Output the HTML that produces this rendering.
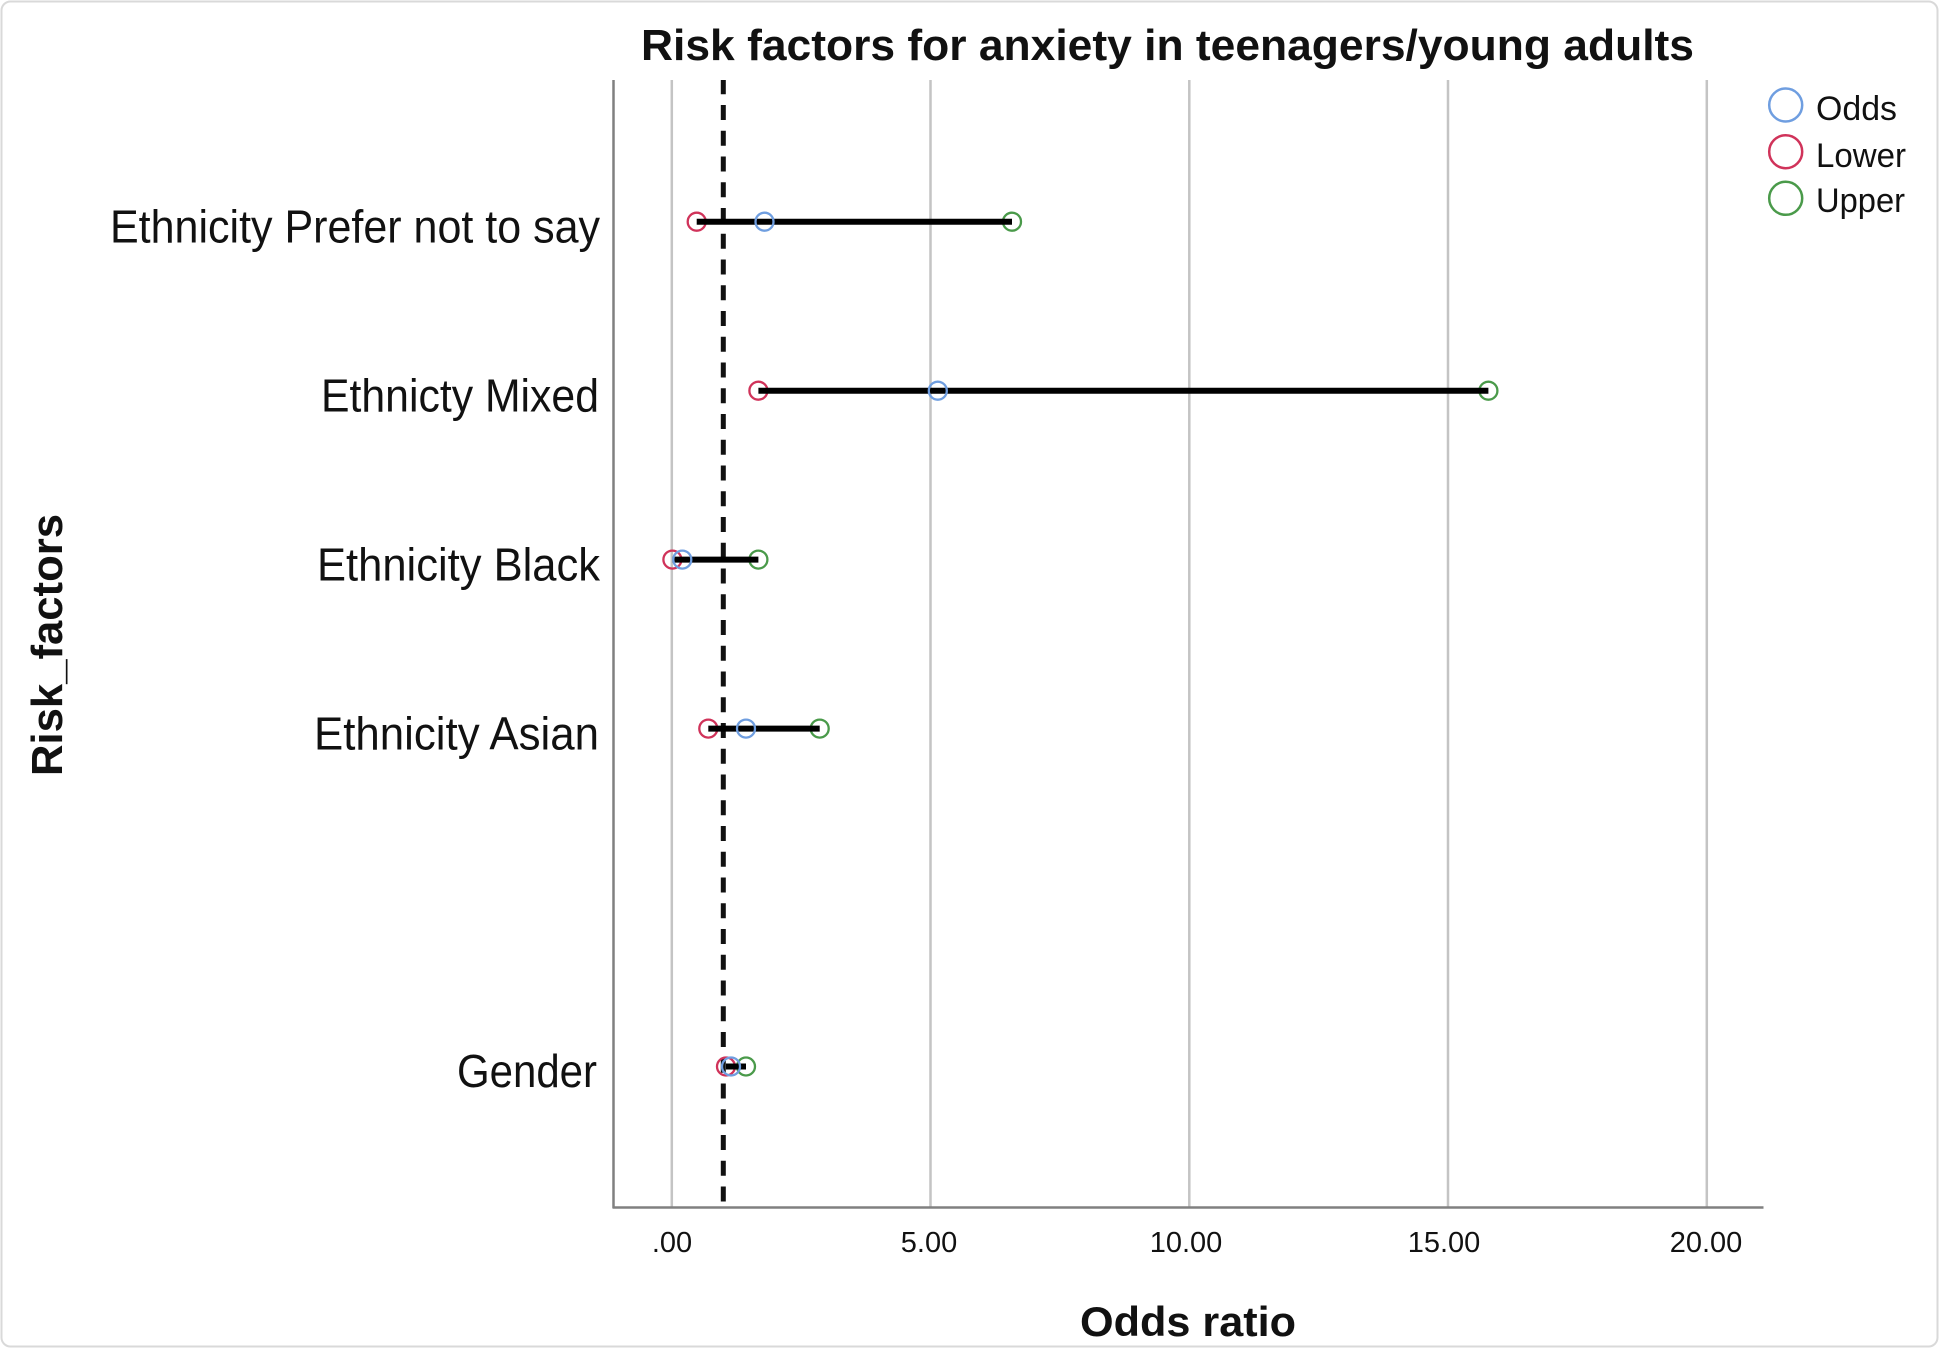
<!DOCTYPE html>
<html>
<head>
<meta charset="utf-8">
<style>
  html, body { margin: 0; padding: 0; background: #ffffff; }
  body { width: 1940px; height: 1350px; overflow: hidden; }
  svg { display: block; }
  text { font-family: "Liberation Sans", Arial, sans-serif; fill: #111; }
</style>
</head>
<body>
<svg width="1940" height="1350" viewBox="0 0 1940 1350" xmlns="http://www.w3.org/2000/svg">
  <!-- outer frame -->
  <rect x="1.5" y="1.5" width="1936" height="1345" rx="9" ry="9" fill="#ffffff" stroke="#d9d9d9" stroke-width="2"/>

  <!-- title -->
  <text x="1167.5" y="60" font-size="44" font-weight="bold" text-anchor="middle" textLength="1053" lengthAdjust="spacingAndGlyphs">Risk factors for anxiety in teenagers/young adults</text>

  <!-- gridlines -->
  <g stroke="#c4c4c4" stroke-width="2.5">
    <line x1="671.8" y1="80" x2="671.8" y2="1207"/>
    <line x1="930.5" y1="80" x2="930.5" y2="1207"/>
    <line x1="1189.3" y1="80" x2="1189.3" y2="1207"/>
    <line x1="1448" y1="80" x2="1448" y2="1207"/>
    <line x1="1706.8" y1="80" x2="1706.8" y2="1207"/>
  </g>

  <!-- axes -->
  <line x1="613.5" y1="80" x2="613.5" y2="1208" stroke="#808080" stroke-width="2.5"/>
  <line x1="612.5" y1="1207.5" x2="1763.5" y2="1207.5" stroke="#808080" stroke-width="2.5"/>

  <!-- dashed reference line at OR = 1 -->
  <svg x="0" y="80" width="1940" height="1127" overflow="hidden">
    <line x1="723.3" y1="-0.75" x2="723.3" y2="1127" stroke="#111" stroke-width="5" stroke-dasharray="15 10.75"/>
  </svg>

  <!-- category labels -->
  <g font-size="46" text-anchor="end">
    <text x="600" y="242.5" textLength="490" lengthAdjust="spacingAndGlyphs">Ethnicity Prefer not to say</text>
    <text x="599" y="411.5" textLength="278" lengthAdjust="spacingAndGlyphs">Ethnicty Mixed</text>
    <text x="600" y="580.5" textLength="283" lengthAdjust="spacingAndGlyphs">Ethnicity Black</text>
    <text x="599" y="749.5" textLength="285" lengthAdjust="spacingAndGlyphs">Ethnicity Asian</text>
    <text x="597" y="1087" textLength="140" lengthAdjust="spacingAndGlyphs">Gender</text>
  </g>

  <!-- data: circles -->
  <g fill="none" stroke-width="2.3">
    <!-- Row 1: Prefer not to say -->
    <circle cx="696.7" cy="221.7" r="9" stroke="#d0335a"/>
    <circle cx="1012" cy="221.7" r="9" stroke="#4a9a4a"/>
    <!-- Row 2: Mixed -->
    <circle cx="758.4" cy="390.7" r="9" stroke="#d0335a"/>
    <circle cx="1488.4" cy="390.7" r="9" stroke="#4a9a4a"/>
    <!-- Row 3: Black -->
    <circle cx="672.4" cy="559.6" r="9" stroke="#d0335a"/>
    <circle cx="758.4" cy="559.6" r="9" stroke="#4a9a4a"/>
    <!-- Row 4: Asian -->
    <circle cx="708.3" cy="728.6" r="9" stroke="#d0335a"/>
    <circle cx="819.7" cy="728.6" r="9" stroke="#4a9a4a"/>
    <!-- Row 6: Gender -->
    <circle cx="726" cy="1066.5" r="9" stroke="#d0335a"/>
    <circle cx="746" cy="1066.5" r="9" stroke="#4a9a4a"/>
  </g>

  <!-- CI lines -->
  <g stroke="#000" stroke-width="6">
    <line x1="696.7" y1="221.7" x2="1012" y2="221.7"/>
    <line x1="758.4" y1="390.7" x2="1488.4" y2="390.7"/>
    <line x1="672.4" y1="559.6" x2="758.4" y2="559.6"/>
    <line x1="708.3" y1="728.6" x2="819.7" y2="728.6"/>
    <line x1="726" y1="1066.5" x2="746" y2="1066.5"/>
  </g>

  <!-- odds circles on top -->
  <g fill="none" stroke="#6f9ee0" stroke-width="2.3">
    <circle cx="764.5" cy="221.7" r="9"/>
    <circle cx="937.8" cy="390.7" r="9"/>
    <circle cx="682.3" cy="559.6" r="9"/>
    <circle cx="746" cy="728.6" r="9"/>
    <circle cx="731" cy="1066.5" r="9"/>
  </g>

  <!-- x tick labels -->
  <g font-size="29" text-anchor="middle" fill="#111">
    <text x="672" y="1252">.00</text>
    <text x="929" y="1252">5.00</text>
    <text x="1186" y="1252">10.00</text>
    <text x="1444" y="1252">15.00</text>
    <text x="1706" y="1252">20.00</text>
  </g>

  <!-- x axis title -->
  <text x="1188" y="1336" font-size="42" font-weight="bold" text-anchor="middle" textLength="216" lengthAdjust="spacingAndGlyphs">Odds ratio</text>

  <!-- y axis title -->
  <text transform="translate(62,645) rotate(-90)" x="0" y="0" font-size="44" font-weight="bold" text-anchor="middle" textLength="262" lengthAdjust="spacingAndGlyphs">Risk_factors</text>

  <!-- legend -->
  <g fill="none" stroke-width="2.5">
    <circle cx="1785.7" cy="105" r="16.5" stroke="#6f9ee0"/>
    <circle cx="1785.7" cy="151.7" r="16.5" stroke="#d0335a"/>
    <circle cx="1785.7" cy="198.3" r="16.5" stroke="#4a9a4a"/>
  </g>
  <g font-size="34">
    <text x="1816" y="120" textLength="81" lengthAdjust="spacingAndGlyphs">Odds</text>
    <text x="1816" y="167" textLength="90" lengthAdjust="spacingAndGlyphs">Lower</text>
    <text x="1816" y="212" textLength="89" lengthAdjust="spacingAndGlyphs">Upper</text>
  </g>
</svg>
</body>
</html>
